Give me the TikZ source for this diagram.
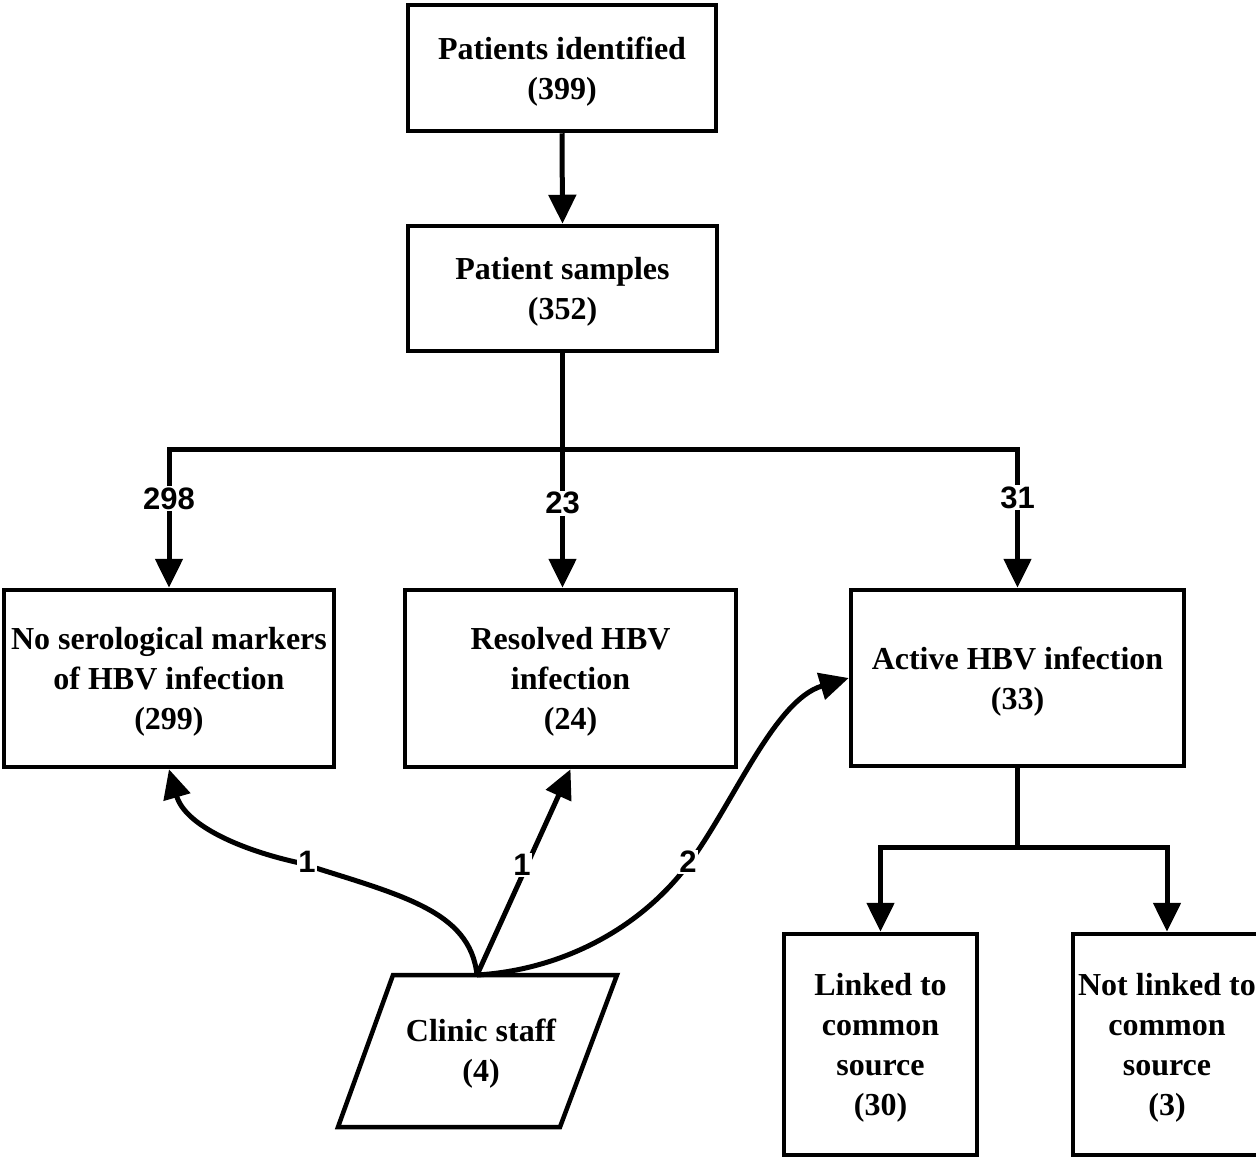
\documentclass[tikz,border=0pt]{standalone}
\usepackage{fontspec}
\setmainfont{Liberation Serif}
\newfontfamily\lsans{Liberation Sans}
\usetikzlibrary{arrows.meta}
\newcommand\tup{\rule{0pt}{29pt}}
\tikzset{
  box/.style={draw, line width=4.5pt, align=center, inner sep=0pt,
    font=\fontsize{32}{40}\selectfont\bfseries},
  conn/.style={line width=5pt},
  arr/.style={line width=5pt, -{Triangle[length=29pt,width=27pt]}},
  lab/.style={fill=white, inner sep=1.5pt, font=\lsans\bfseries\fontsize{31}{36}\selectfont}
}
\begin{document}
\begin{tikzpicture}[x=1pt,y=-1pt]
\fill[white] (0,0) rectangle (1256,1160);
\useasboundingbox (0,0) rectangle (1256,1160);

\node[box, minimum width=308pt, minimum height=126pt] (pi) at (562,68) {\tup Patients identified\\(399)};
\node[box, minimum width=309pt, minimum height=125pt] (ps) at (562.5,288.5) {\tup Patient samples\\(352)};
\node[box, minimum width=330pt, minimum height=177pt] (noser) at (169,678.5) {\tup No serological markers\\of HBV infection\\(299)};
\node[box, minimum width=331pt, minimum height=177pt] (res) at (570.5,678.5) {\tup Resolved HBV\\infection\\(24)};
\node[box, minimum width=333pt, minimum height=176pt] (act) at (1017.5,678) {\tup Active HBV infection\\(33)};
\node[box, minimum width=193pt, minimum height=221pt] (lnk) at (880.5,1044.5) {\tup Linked to\\common\\source\\(30)};
\node[box, minimum width=188pt, minimum height=221pt] (nlk) at (1167,1044.5) {\tup Not linked to\\common\\source\\(3)};

% clinic staff parallelogram
\draw[line width=4.5pt, line join=miter] (393,975) -- (617,975) -- (560,1127) -- (338,1127) -- cycle;
\node[font=\fontsize{32}{40}\selectfont\bfseries, align=center] (staff) at (481,1054) {Clinic staff\\(4)};
\coordinate (staffTop) at (477,975);

% top chain
\draw[arr] (pi.south) -- (ps.north);
\coordinate (bj) at (562.5,449);
\coordinate (bL) at (169,449);
\coordinate (bR) at (1017.5,449);
\draw[conn] (ps.south) -- (bj);
\draw[conn, line cap=rect] (bL) -- (bR);
\draw[arr] (bL) -- (noser.north) node[lab, pos=0.36] (l298) {298};
\draw[arr] (bj) -- (bj |- res.north) node[lab, pos=0.39] (l23) {23};
\draw[arr] (bR) -- (act.north) node[lab, pos=0.35] (l31) {31};

% active branch
\coordinate (aj) at (1017.5,847);
\coordinate (aL) at (880.5,847);
\coordinate (aR) at (1167,847);
\draw[conn] (act.south) -- (aj);
\draw[conn, line cap=rect] (aL) -- (aR);
\draw[arr] (aL) -- (lnk.north);
\draw[arr] (aR) -- (nlk.north);

% staff connectors
\draw[arr] (staffTop) .. controls (470,910) and (400,895) .. (300,863)
  .. controls (240,850) and (185,825) .. (noser.south);
\node[lab] (l1a) at (307,862) {1};
\draw[arr] (staffTop) -- (res.south);
\node[lab] (l1b) at (522,865) {1};
\draw[arr] (staffTop) .. controls (560,970) and (640,930) .. (690,862)
  .. controls (735,800) and (775,700) .. (act.west);
\node[lab] (l2) at (688,862) {2};
\end{tikzpicture}
\end{document}
